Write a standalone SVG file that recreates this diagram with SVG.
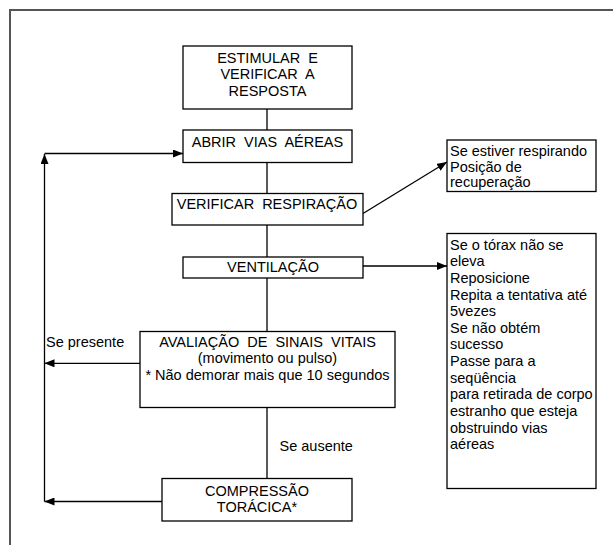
<svg xmlns="http://www.w3.org/2000/svg" width="613" height="545" viewBox="0 0 613 545">
<style>
.box{fill:#fff;stroke:#000;stroke-width:1.3}
.t{font-family:"Liberation Sans",Arial,sans-serif;font-size:14.5px;fill:#000}
.c{text-anchor:middle}
.w{word-spacing:4px}
.ln{fill:none;stroke:#000;stroke-width:1.3}
.frame{fill:none;stroke:#555;stroke-width:2}
</style>
<defs>
<marker id="ah" viewBox="0 0 10 8" refX="10" refY="4" markerWidth="10" markerHeight="8" markerUnits="userSpaceOnUse" orient="auto">
<path d="M0,0 L10,4 L0,8 Z" fill="#000"/>
</marker>
</defs>
<rect width="613" height="545" fill="#fff"/>
<path class="frame" d="M10,545 L10,10 L613,10"/>

<g id="connectors">
<path class="ln" d="M267,109 V130 M267,162.5 V193.5 M267,225 V257 M267,278 V331.5 M267,407.5 V478.5"/>
<path class="ln" d="M363,213.5 L447,162" marker-end="url(#ah)"/>
<path class="ln" d="M363,266 L447,266" marker-end="url(#ah)"/>
<path class="ln" d="M140,363.3 L44.5,363.3" marker-end="url(#ah)"/>
<path class="ln" d="M162,501.5 L44.5,501.5" marker-end="url(#ah)"/>
<path class="ln" d="M44.5,501.5 L44.5,154" marker-end="url(#ah)"/>
<path class="ln" d="M44.5,153.5 L183,153.5" marker-end="url(#ah)"/>
<text class="t" x="46" y="346.5">Se presente</text>
<text class="t" x="279.5" y="450.7">Se ausente</text>
</g>

<g id="n1">
<rect class="box" x="183" y="46" width="169" height="63"/>
<text class="t c w" x="267.5" y="62.5">ESTIMULAR E</text>
<text class="t c w" x="267.5" y="79">VERIFICAR A</text>
<text class="t c" x="267.5" y="95.5">RESPOSTA</text>
</g>
<g id="n2">
<rect class="box" x="183" y="130" width="169" height="32.5"/>
<text class="t c w" x="267.5" y="146.5">ABRIR VIAS AÉREAS</text>
</g>
<g id="n3">
<rect class="box" x="172" y="193.5" width="191" height="31.5"/>
<text class="t c w" x="267" y="208.5">VERIFICAR RESPIRAÇÃO</text>
</g>
<g id="n4">
<rect class="box" x="183" y="257" width="180" height="21"/>
<text class="t c" x="273" y="271.5">VENTILAÇÃO</text>
</g>
<g id="n5">
<rect class="box" x="140" y="331.5" width="255" height="76"/>
<text class="t c w" x="267.5" y="346.5">AVALIAÇÃO DE SINAIS VITAIS</text>
<text class="t c" x="267.5" y="363">(movimento ou pulso)</text>
<text class="t c" x="267.5" y="379.7">* Não demorar mais que 10 segundos</text>
</g>
<g id="n6">
<rect class="box" x="162" y="478.5" width="190" height="42.5"/>
<text class="t c" x="257" y="495.5">COMPRESSÃO</text>
<text class="t c" x="257" y="511.5">TORÁCICA*</text>
</g>
<g id="n7">
<rect class="box" x="447" y="140" width="149" height="51.5"/>
<text class="t" x="450" y="156">Se estiver respirando</text>
<text class="t" x="450" y="171.7">Posição de</text>
<text class="t" x="450" y="187.3">recuperação</text>
</g>
<g id="n8">
<rect class="box" x="447" y="233.5" width="149" height="255"/>
<text class="t" x="450" y="249.5">Se o tórax não se</text>
<text class="t" x="450" y="266.2">eleva</text>
<text class="t" x="450" y="282.8">Reposicione</text>
<text class="t" x="450" y="299.5">Repita a tentativa até</text>
<text class="t" x="450" y="316.1">5vezes</text>
<text class="t" x="450" y="332.8">Se não obtém</text>
<text class="t" x="450" y="349.4">sucesso</text>
<text class="t" x="450" y="366.1">Passe para a</text>
<text class="t" x="450" y="382.7">seqüência</text>
<text class="t" x="450" y="399.4">para retirada de corpo</text>
<text class="t" x="450" y="416">estranho que esteja</text>
<text class="t" x="450" y="432.7">obstruindo vias</text>
<text class="t" x="450" y="449.3">aéreas</text>
</g>
</svg>
